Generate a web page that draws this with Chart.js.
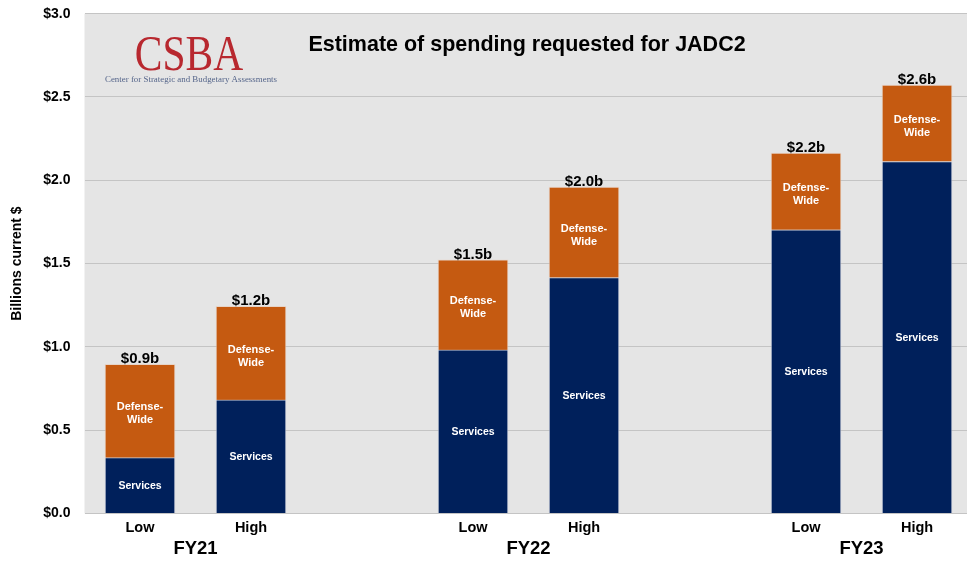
<!DOCTYPE html>
<html>
<head>
<meta charset="utf-8">
<script src="https://cdn.jsdelivr.net/npm/chart.js@4"></script>
<style>
  html, body { margin: 0; padding: 0; background: #ffffff; }
  #wrap { width: 967px; height: 562px; position: relative; }
</style>
</head>
<body>
<div id="wrap"><canvas id="chart"></canvas></div>
<script>
// ---- Data ----
const categories = ['Low', 'High', 'Low', 'High', 'Low', 'High'];
const fiscalYears = ['FY21', 'FY22', 'FY23'];
const services = [0.335, 0.682, 0.982, 1.416, 1.703, 2.113];
const defenseWide = [0.561, 0.562, 0.541, 0.543, 0.460, 0.459];
const totalLabels = ['$0.9b', '$1.2b', '$1.5b', '$2.0b', '$2.2b', '$2.6b'];
const yTickValues = [0, 0.5, 1.0, 1.5, 2.0, 2.5, 3.0];
const chartTitle = 'Estimate of spending requested for JADC2';
const yAxisTitle = 'Billions current $';
const logoText = 'CSBA';
const logoSubtext = 'Center for Strategic and Budgetary Assessments';

// group layout: two bars per fiscal year, one empty slot between groups
const xPos = categories.map((c, i) => Math.floor(i / 2) * 3 + (i % 2));
const fyPos = fiscalYears.map((f, i) => i * 3 + 0.5);

const FONT = '"Liberation Sans", Arial, Helvetica, sans-serif';
const SERIF = '"Liberation Serif", "Times New Roman", serif';

const bgPlugin = {
  id: 'plotBg',
  beforeDraw(chart) {
    const { ctx, chartArea: a } = chart;
    ctx.save();
    ctx.fillStyle = '#e5e5e5';
    ctx.fillRect(a.left, a.top, a.right - a.left, a.bottom - a.top);
    ctx.restore();
  }
};

const labelPlugin = {
  id: 'barLabels',
  afterDatasetsDraw(chart) {
    const ctx = chart.ctx;
    const m0 = chart.getDatasetMeta(0);
    const m1 = chart.getDatasetMeta(1);
    ctx.save();
    ctx.textAlign = 'center';
    for (let i = 0; i < categories.length; i++) {
      const s = m0.data[i];
      const d = m1.data[i];
      ctx.fillStyle = '#ffffff';
      ctx.font = 'bold 10.5px ' + FONT;
      ctx.textBaseline = 'middle';
      ctx.fillText('Services', s.x, (s.y + s.base) / 2 + 1);
      ctx.font = 'bold 11px ' + FONT;
      const cy = (d.y + d.base) / 2 + 3;
      ctx.fillText('Defense-', d.x, cy - 6.5);
      ctx.fillText('Wide', d.x, cy + 6.5);
      ctx.fillStyle = '#000000';
      ctx.font = 'bold 15px ' + FONT;
      ctx.textBaseline = 'alphabetic';
      ctx.fillText(totalLabels[i], d.x, d.y - 1);
    }
    ctx.restore();
  }
};

const titlePlugin = {
  id: 'innerTitle',
  afterDraw(chart) {
    const ctx = chart.ctx;
    ctx.save();
    ctx.fillStyle = '#000000';
    ctx.font = 'bold 21.5px ' + FONT;
    ctx.textAlign = 'center';
    ctx.textBaseline = 'alphabetic';
    ctx.fillText(chartTitle, 527, 51);
    ctx.save();
    ctx.translate(189, 70);
    ctx.scale(0.83, 1);
    ctx.fillStyle = '#b8282f';
    ctx.font = '50px ' + SERIF;
    ctx.fillText(logoText, 0, 0);
    ctx.restore();
    ctx.fillStyle = '#55658a';
    ctx.font = '9px ' + SERIF;
    ctx.fillText(logoSubtext, 191, 82, 172);
    ctx.restore();
  }
};

new Chart(document.getElementById('chart'), {
  type: 'bar',
  data: {
    datasets: [
      {
        label: 'Services',
        data: services.map((v, i) => ({ x: xPos[i], y: v })),
        backgroundColor: '#00205b',
        borderColor: 'rgba(200,205,220,0.6)',
        borderWidth: 1,
        barThickness: 70,
        xAxisID: 'x'
      },
      {
        label: 'Defense-Wide',
        data: defenseWide.map((v, i) => ({ x: xPos[i], y: v })),
        backgroundColor: '#c55a11',
        borderColor: 'rgba(230,200,180,0.6)',
        borderWidth: 1,
        barThickness: 70,
        xAxisID: 'x'
      }
    ]
  },
  options: {
    responsive: true,
    maintainAspectRatio: false,
    animation: false,
    layout: { autoPadding: false, padding: { top: 13.7, right: 0, bottom: 0, left: 0 } },
    plugins: {
      legend: { display: false },
      tooltip: { enabled: false },
      title: { display: false }
    },
    scales: {
      x: {
        type: 'linear',
        position: 'bottom',
        stacked: true,
        offset: false,
        weight: 0,
        min: -0.5,
        max: 7.45,
        grid: { display: false, drawTicks: false },
        border: { display: false },
        afterBuildTicks(axis) { axis.ticks = xPos.map(v => ({ value: v })); },
        afterFit(scale) { scale.height = 22; scale.paddingLeft = 0; scale.paddingRight = 0; },
        ticks: {
          autoSkip: false,
          maxRotation: 0,
          padding: 6,
          color: '#000000',
          font: { family: FONT, size: 14.5, weight: 'bold' },
          callback: (v, i) => categories[i]
        }
      },
      x2: {
        type: 'linear',
        position: 'bottom',
        offset: false,
        weight: 1,
        min: -0.5,
        max: 7.45,
        grid: { display: false, drawTicks: false },
        border: { display: false },
        afterBuildTicks(axis) { axis.ticks = fyPos.map(v => ({ value: v })); },
        afterFit(scale) { scale.height = 26.5; scale.paddingLeft = 0; scale.paddingRight = 0; },
        ticks: {
          autoSkip: false,
          maxRotation: 0,
          padding: 2,
          color: '#000000',
          font: { family: FONT, size: 18.5, weight: 'bold' },
          callback: (v, i) => fiscalYears[i]
        }
      },
      y: {
        stacked: true,
        min: 0,
        max: 3,
        afterBuildTicks(axis) { axis.ticks = yTickValues.map(v => ({ value: v })); },
        afterFit(scale) { scale.width = 84.5; scale.paddingTop = 0; scale.paddingBottom = 0; },
        grid: { color: '#c4c4c4', lineWidth: 1, drawTicks: false },
        border: { display: false },
        title: {
          display: true,
          text: yAxisTitle,
          color: '#000000',
          font: { family: FONT, size: 14, weight: 'bold' },
          padding: { top: 9, bottom: 0 }
        },
        ticks: {
          padding: 14,
          color: '#000000',
          font: { family: FONT, size: 14, weight: 'bold' },
          callback: v => '$' + Number(v).toFixed(1)
        }
      }
    }
  },
  plugins: [bgPlugin, labelPlugin, titlePlugin]
});
</script>
</body>
</html>
